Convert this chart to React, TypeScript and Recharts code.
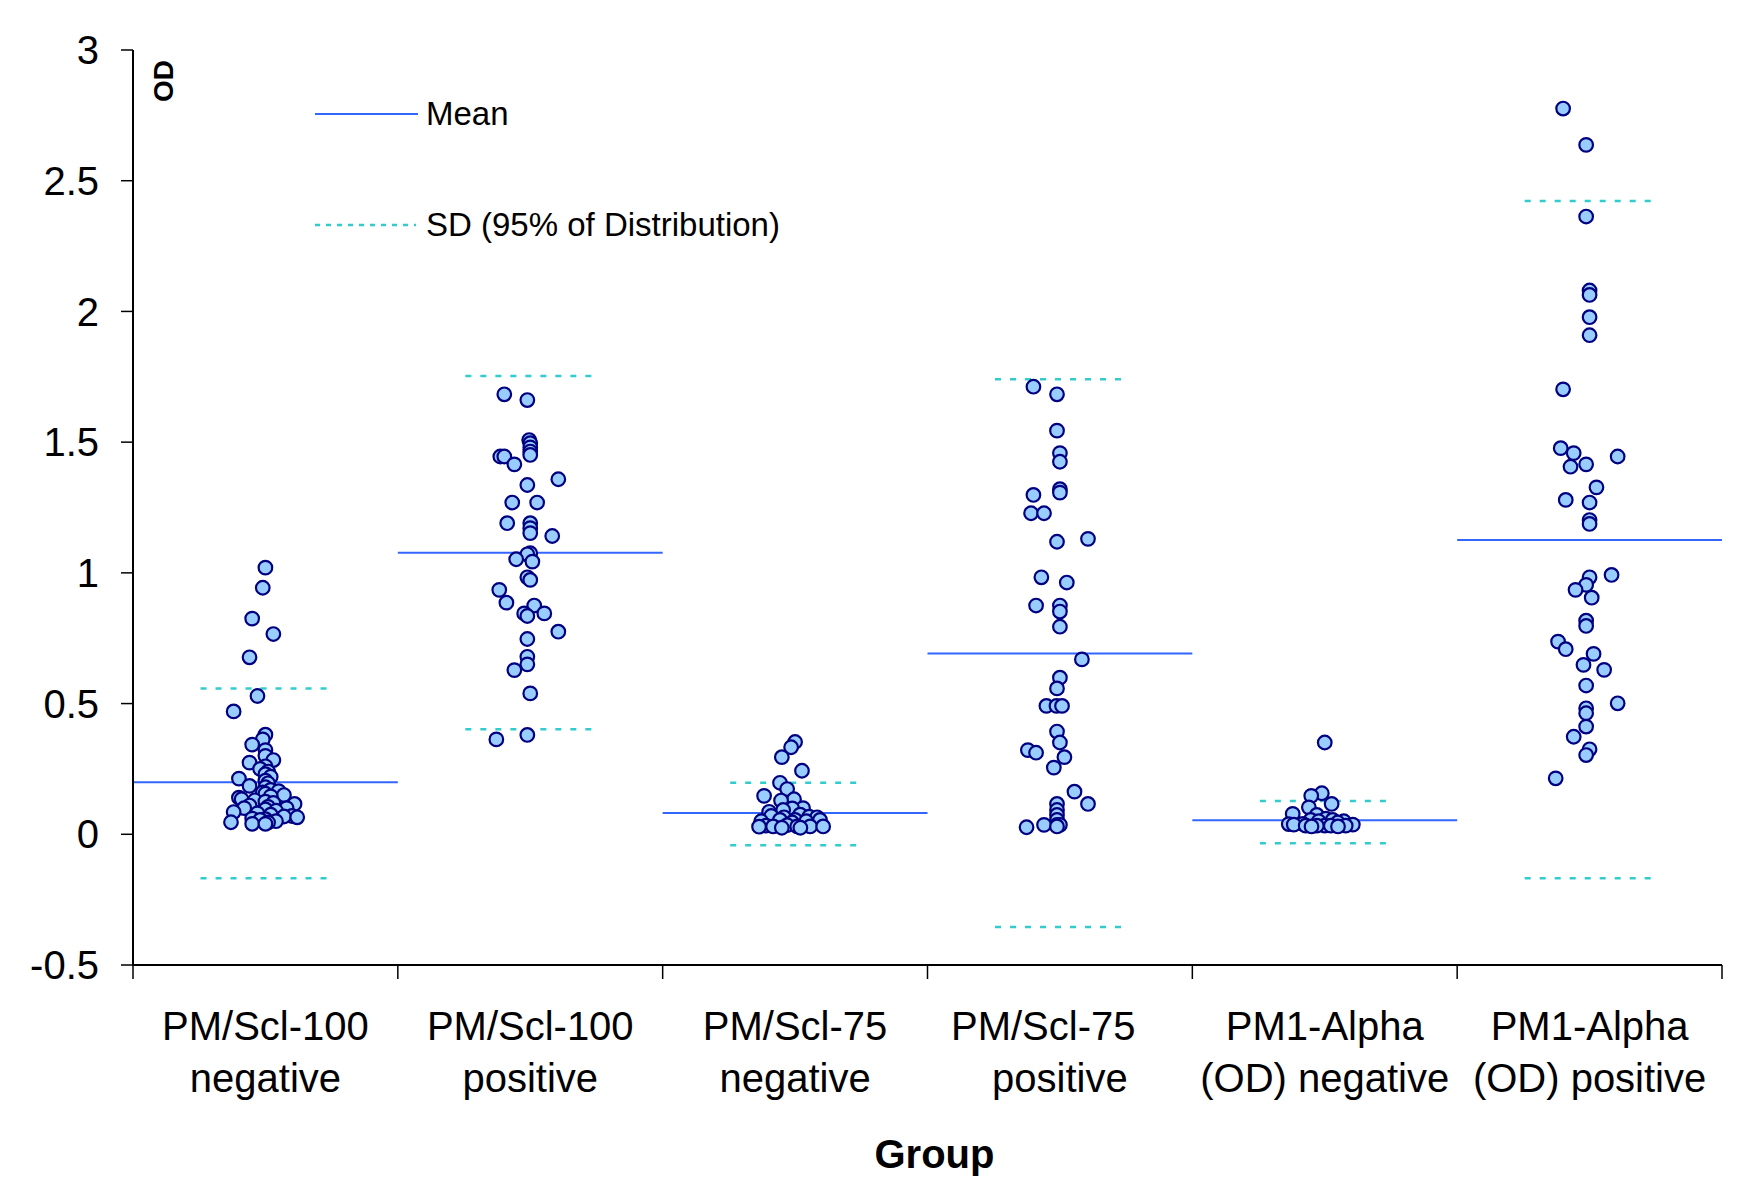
import React from 'react';
import { ScatterChart, Scatter, XAxis, YAxis, ReferenceLine, Legend, Label } from 'recharts';

document.body.style.margin = '0';

const FONT = '"Liberation Sans", Arial, sans-serif';

const categories = [
  'PM/Scl-100\nnegative',
  'PM/Scl-100\npositive',
  'PM/Scl-75\nnegative',
  'PM/Scl-75\u00a0\u00a0\u00a0\npositive',
  'PM1-Alpha\n(OD) negative',
  'PM1-Alpha\n(OD) positive',
];

const yTicks = [-0.5, 0, 0.5, 1, 1.5, 2, 2.5, 3];

const meanValues = [0.199, 1.077, 0.081, 0.692, 0.054, 1.126];
const sdUpper = [0.558, 1.753, 0.197, 1.741, 0.127, 2.422];
const sdLower = [-0.168, 0.402, -0.042, -0.355, -0.034, -0.168];

// [OD, horizontal jitter in category widths]
const scl100Negative: [number, number][] = [
  [1.02, 0], [0.943, -0.01], [0.825, -0.05], [0.766, 0.03], [0.677, -0.06], [0.529, -0.03],
  [0.47, -0.12], [0.381, 0], [0.363, -0.01], [0.343, -0.05], [0.322, 0], [0.3, 0],
  [0.284, 0.03], [0.274, -0.06], [0.26, 0], [0.25, -0.02], [0.24, 0.01], [0.23, 0],
  [0.22, 0.02], [0.213, -0.1], [0.205, 0], [0.195, 0.01], [0.185, -0.06], [0.18, 0],
  [0.17, 0.02], [0.165, 0.05], [0.16, -0.01], [0.155, 0], [0.15, 0.07], [0.145, 0.02],
  [0.14, -0.1], [0.134, -0.09], [0.13, -0.04], [0.125, 0], [0.12, 0.03], [0.116, 0.11],
  [0.11, -0.06], [0.105, 0.01], [0.1, -0.08], [0.1, 0.08], [0.095, 0], [0.09, 0.04],
  [0.085, -0.12], [0.08, -0.03], [0.075, 0.02], [0.07, 0.1], [0.068, 0.07], [0.065, 0.12],
  [0.06, -0.05], [0.058, 0], [0.055, -0.02], [0.05, 0.04], [0.046, -0.13], [0.045, 0.01],
  [0.04, -0.05], [0.04, 0],
];

const scl100Positive: [number, number][] = [
  [1.683, -0.098], [1.661, -0.011], [1.508, -0.004], [1.496, 0], [1.48, 0], [1.464, 0],
  [1.451, 0], [1.445, -0.113], [1.445, -0.098], [1.415, -0.06], [1.358, 0.106], [1.336, -0.011],
  [1.269, -0.068], [1.269, 0.026], [1.19, -0.087], [1.19, 0], [1.171, 0], [1.152, 0],
  [1.141, 0.083], [1.075, 0], [1.071, -0.011], [1.052, -0.053], [1.043, 0.008], [0.983, -0.011],
  [0.973, 0], [0.935, -0.117], [0.886, -0.09], [0.875, 0.015], [0.845, -0.023], [0.835, -0.011],
  [0.845, 0.053], [0.775, 0.106], [0.747, -0.011], [0.679, -0.011], [0.65, -0.011], [0.628, -0.06],
  [0.539, 0], [0.363, -0.128], [0.38, -0.011],
];

const scl75Negative: [number, number][] = [
  [0.353, 0], [0.333, -0.015], [0.295, -0.05], [0.243, 0.026], [0.197, -0.057], [0.173, -0.03],
  [0.147, -0.117], [0.134, -0.004], [0.129, -0.053], [0.1, 0.03], [0.099, -0.011], [0.093, -0.045],
  [0.086, -0.098], [0.075, 0.019], [0.07, -0.09], [0.067, 0.053], [0.065, 0.083], [0.065, -0.042],
  [0.055, 0.094], [0.055, -0.057], [0.055, 0], [0.05, -0.128], [0.05, 0.042], [0.045, -0.011],
  [0.035, -0.03], [0.033, -0.11], [0.03, 0.008], [0.03, 0.057], [0.03, 0.106], [0.03, -0.083],
  [0.029, -0.136], [0.025, 0.02], [0.025, -0.05],
];

const scl75Positive: [number, number][] = [
  [1.712, -0.1], [1.683, -0.011], [1.544, -0.011], [1.458, 0], [1.425, 0], [1.32, 0],
  [1.307, 0], [1.298, -0.1], [1.228, -0.109], [1.228, -0.06], [1.119, -0.011], [1.13, 0.106],
  [0.983, -0.07], [0.963, 0.026], [0.875, -0.09], [0.875, 0], [0.852, 0], [0.794, 0],
  [0.669, 0.083], [0.599, 0], [0.558, -0.011], [0.491, -0.051], [0.491, -0.013], [0.491, 0.008],
  [0.393, -0.011], [0.351, 0], [0.322, -0.121], [0.312, -0.09], [0.295, 0.017], [0.255, -0.023],
  [0.163, 0.055], [0.116, 0.106], [0.116, -0.011], [0.093, -0.011], [0.074, -0.011], [0.055, -0.011],
  [0.036, -0.011], [0.036, 0], [0.036, -0.06], [0.027, -0.126], [0.03, -0.011],
];

const alphaNegative: [number, number][] = [
  [0.351, 0], [0.157, -0.011], [0.147, -0.051], [0.116, 0.026], [0.103, -0.06], [0.078, -0.121],
  [0.074, -0.03], [0.06, 0.004], [0.055, -0.053], [0.055, 0.03], [0.05, -0.023], [0.05, 0.072],
  [0.045, 0.049], [0.04, -0.083], [0.039, -0.136], [0.037, -0.117], [0.037, 0.106], [0.033, 0],
  [0.033, -0.03], [0.033, 0.023], [0.033, -0.072], [0.033, 0.079], [0.03, 0.05], [0.03, -0.05],
];

const alphaPositive: [number, number][] = [
  [2.776, -0.1], [2.637, -0.013], [2.363, -0.013], [2.08, 0], [2.063, 0], [1.978, 0],
  [1.909, 0], [1.702, -0.1], [1.477, -0.109], [1.458, -0.06], [1.445, 0.106], [1.415, -0.013],
  [1.406, -0.072], [1.327, 0.026], [1.279, -0.09], [1.269, 0], [1.202, 0], [1.187, 0],
  [0.992, 0.083], [0.983, 0], [0.954, -0.013], [0.935, -0.053], [0.905, 0.008], [0.817, -0.013],
  [0.797, -0.013], [0.737, -0.119], [0.708, -0.09], [0.69, 0.015], [0.648, -0.023], [0.629, 0.055],
  [0.569, -0.013], [0.501, 0.106], [0.482, -0.013], [0.463, -0.013], [0.412, -0.013], [0.373, -0.06],
  [0.325, 0], [0.303, -0.013], [0.214, -0.128],
];

const groups = [scl100Negative, scl100Positive, scl75Negative, scl75Positive, alphaNegative, alphaPositive];

const points = groups.flatMap((g, i) => g.map(([od, j]) => ({ x: i + 0.5 + j, y: od })));

const boundaryTicks = [0, 1, 2, 3, 4, 5, 6];
const centerTicks = [0.5, 1.5, 2.5, 3.5, 4.5, 5.5];

const NoTick = () => <g />;

const CategoryTick = (props: any) => {
  const { x, y, payload } = props;
  const idx = Math.round(payload.value - 0.5);
  const lines = (categories[idx] || '').split('\n');
  return (
    <text x={x} y={y} textAnchor="middle" fontSize={40} fontFamily={FONT} fill="#000" xmlSpace="preserve">
      {lines.map((l, k) => (
        <tspan key={k} x={x} dy={k === 0 ? 61 : 52}>{l}</tspan>
      ))}
    </text>
  );
};

const Dot = (props: any) => (
  <circle cx={props.cx} cy={props.cy} r={6.8} fill="#99CCFF" stroke="#000080" strokeWidth={2.2} />
);

const LegendBox = () => (
  <div style={{ fontFamily: FONT, fontSize: 33, color: '#000' }}>
    <div style={{ display: 'flex', alignItems: 'center', height: 50 }}>
      <svg width={111} height={10}><line x1={0} y1={5} x2={103} y2={5} stroke="#3366FF" strokeWidth={2} /></svg>
      <span>Mean</span>
    </div>
    <div style={{ display: 'flex', alignItems: 'center', height: 50, marginTop: 61 }}>
      <svg width={111} height={10}><line x1={0} y1={5} x2={101} y2={5} stroke="#33CCCC" strokeWidth={2.5} strokeDasharray="5 6" /></svg>
      <span>SD (95% of Distribution)</span>
    </div>
  </div>
);

export default function App() {
  return (
    <ScatterChart width={1753} height={1177} margin={{ top: 50, right: 31, left: 0, bottom: 0 }}>
      <XAxis
        xAxisId="bounds"
        type="number"
        dataKey="x"
        domain={[0, 6]}
        allowDataOverflow
        ticks={boundaryTicks}
        tick={<NoTick />}
        tickSize={14}
        height={14}
        axisLine={{ stroke: '#000', strokeWidth: 2 }}
        tickLine={{ stroke: '#000', strokeWidth: 1.5 }}
      />
      <XAxis
        xAxisId="labels"
        type="number"
        dataKey="x"
        domain={[0, 6]}
        allowDataOverflow
        ticks={centerTicks}
        interval={0}
        tick={<CategoryTick />}
        tickSize={0}
        tickMargin={0}
        tickLine={false}
        axisLine={false}
        height={198}
      >
        <Label
          value="Group"
          position="insideBottom"
          offset={9}
          dx={7}
          style={{ fontFamily: FONT, fontSize: 40, fontWeight: 'bold', fill: '#000' }}
        />
      </XAxis>
      <YAxis
        type="number"
        dataKey="y"
        domain={[-0.5, 3]}
        ticks={yTicks}
        width={133}
        tickSize={12}
        tickMargin={22}
        axisLine={{ stroke: '#000', strokeWidth: 2 }}
        tickLine={{ stroke: '#000', strokeWidth: 1.5 }}
        tick={{ fontFamily: FONT, fontSize: 40, fill: '#000' }}
        label={{
          content: (p: any) => {
            const vb = p.viewBox || {};
            const cx = vb.x + vb.width + 40;
            const cy = vb.y + 31;
            return (
              <text
                x={cx}
                y={cy}
                transform={`rotate(-90 ${cx} ${cy})`}
                textAnchor="middle"
                fontFamily={FONT}
                fontWeight="bold"
                fontSize={28}
                fill="#000"
              >
                OD
              </text>
            );
          },
        }}
      />
      {meanValues.map((m, i) => (
        <ReferenceLine
          key={`m${i}`}
          xAxisId="bounds"
          segment={[{ x: i, y: m }, { x: i + 1, y: m }]}
          stroke="#3366FF"
          strokeWidth={2}
        />
      ))}
      {sdUpper.map((s, i) => (
        <ReferenceLine
          key={`su${i}`}
          xAxisId="bounds"
          segment={[{ x: i + 0.255, y: s }, { x: i + 0.745, y: s }]}
          stroke="#33CCCC"
          strokeWidth={2.5}
          strokeDasharray="6 9"
        />
      ))}
      {sdLower.map((s, i) => (
        <ReferenceLine
          key={`sl${i}`}
          xAxisId="bounds"
          segment={[{ x: i + 0.255, y: s }, { x: i + 0.745, y: s }]}
          stroke="#33CCCC"
          strokeWidth={2.5}
          strokeDasharray="6 9"
        />
      ))}
      <Scatter data={points} xAxisId="bounds" shape={<Dot />} isAnimationActive={false} />
      <Legend
        layout="horizontal"
        verticalAlign="middle"
        content={<LegendBox />}
        wrapperStyle={{ left: 315, top: 89, width: 700, height: 170 }}
      />
    </ScatterChart>
  );
}
